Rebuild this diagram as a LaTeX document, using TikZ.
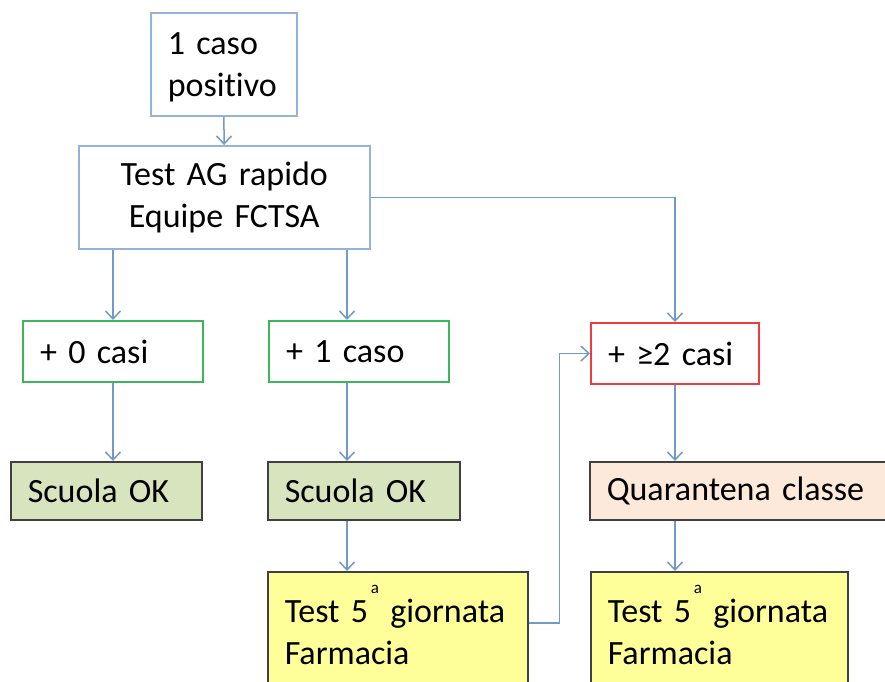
\documentclass[tikz,border=0pt]{standalone}
\usepackage{fontspec}
\setmainfont{Carlito}[Ligatures = NoCommon, WordSpace = 0.8]
\usetikzlibrary{arrows.meta}

\definecolor{boxblue}{HTML}{95B3D7}
\definecolor{lineblue}{HTML}{7399C6}
\definecolor{okgreen}{HTML}{3DB55E}
\definecolor{alertred}{HTML}{EE3B3B}
\definecolor{darkedge}{HTML}{404040}
\definecolor{greenfill}{HTML}{D7E4BD}
\definecolor{peachfill}{HTML}{FDE9D9}
\definecolor{yellowfill}{HTML}{FFFF99}

\begin{document}
\begin{tikzpicture}[x = 1pt, y = -1pt,
                        font = \fontsize{34}{42}\selectfont,
                        box/.style = {rectangle, anchor = north west, inner xsep = 17pt, inner ysep = 0pt, align = left},
                        plain/.style = {box, draw = boxblue, line width = 1.5pt, fill = white},
                        okbox/.style = {box, draw = okgreen, line width = 2pt, fill = white},
                        redbox/.style = {box, draw = alertred, line width = 2pt, fill = white},
                        filled/.style = {box, draw = darkedge, line width = 1.5pt},
                        arr/.style = {draw = lineblue, line width = 1.5pt, -{Straight Barb[length = 8pt, width = 15pt]}}]
    \useasboundingbox (0, 0) rectangle (885, 681);
    \clip (0, 0) rectangle (885, 681);
    \coordinate (mid) at (347, 0);

    \node [plain, text width = 112pt, text height = 42pt, text depth = 61pt] (pos) at (150, 12) {1 caso\\positivo};
    \node [plain, text width = 257pt, minimum height = 103pt, align = center] (test) at (78, 145) {Test AG rapido\\Equipe FCTSA};

    \node [okbox, text width = 146pt, minimum height = 61pt] (zero) at (22, 320) {+ 0 casi};
    \node [okbox, text width = 146pt, minimum height = 61pt] (one) at (268, 320) {+ 1 caso};
    \node [redbox, text width = 134pt, minimum height = 61pt] (two) at (590, 322) {+ ≥2 casi};

    \node [filled, fill = greenfill, text width = 157pt, minimum height = 58pt] (ok1) at (10, 461) {Scuola OK};
    \node [filled, fill = greenfill, text width = 158pt, minimum height = 58pt] (ok2) at (267, 461) {Scuola OK};
    \node [filled, fill = peachfill, text width = 266pt, minimum height = 58pt] (quar) at (589, 461) {Quarantena classe};

    \node [filled, fill = yellowfill, text width = 226pt, text height = 51pt, text depth = 79pt] (t1) at (267, 571)
        {Test 5\raisebox{29pt}{\fontsize{17}{17}\selectfont\,a}\ giornata\\Farmacia};
    \node [filled, fill = yellowfill, text width = 223pt, text height = 51pt, text depth = 79pt] (t2) at (590, 571)
        {Test 5\raisebox{29pt}{\fontsize{17}{17}\selectfont\,a}\ giornata\\Farmacia};

    \draw [arr] (pos) -- (test);
    \draw [arr] (test.south -| zero.north) -- (zero.north);
    \draw [arr] (test.south -| mid) -- (one.north -| mid);
    \draw [arr] (test.east) -| (two.north);

    \draw [arr] (zero.south) -- (ok1.north -| zero.south);
    \draw [arr] (one.south -| mid) -- (ok2.north -| mid);
    \draw [arr] (two.south) -- (quar.north -| two.south);

    \draw [arr] (ok2.south -| mid) -- (t1.north -| mid);
    \draw [arr] (quar.south -| two.south) -- (t2.north -| two.south);
    \draw [arr] (t1.base east) -- ++(31, 0) |- (two.west);
\end{tikzpicture}
\end{document}
